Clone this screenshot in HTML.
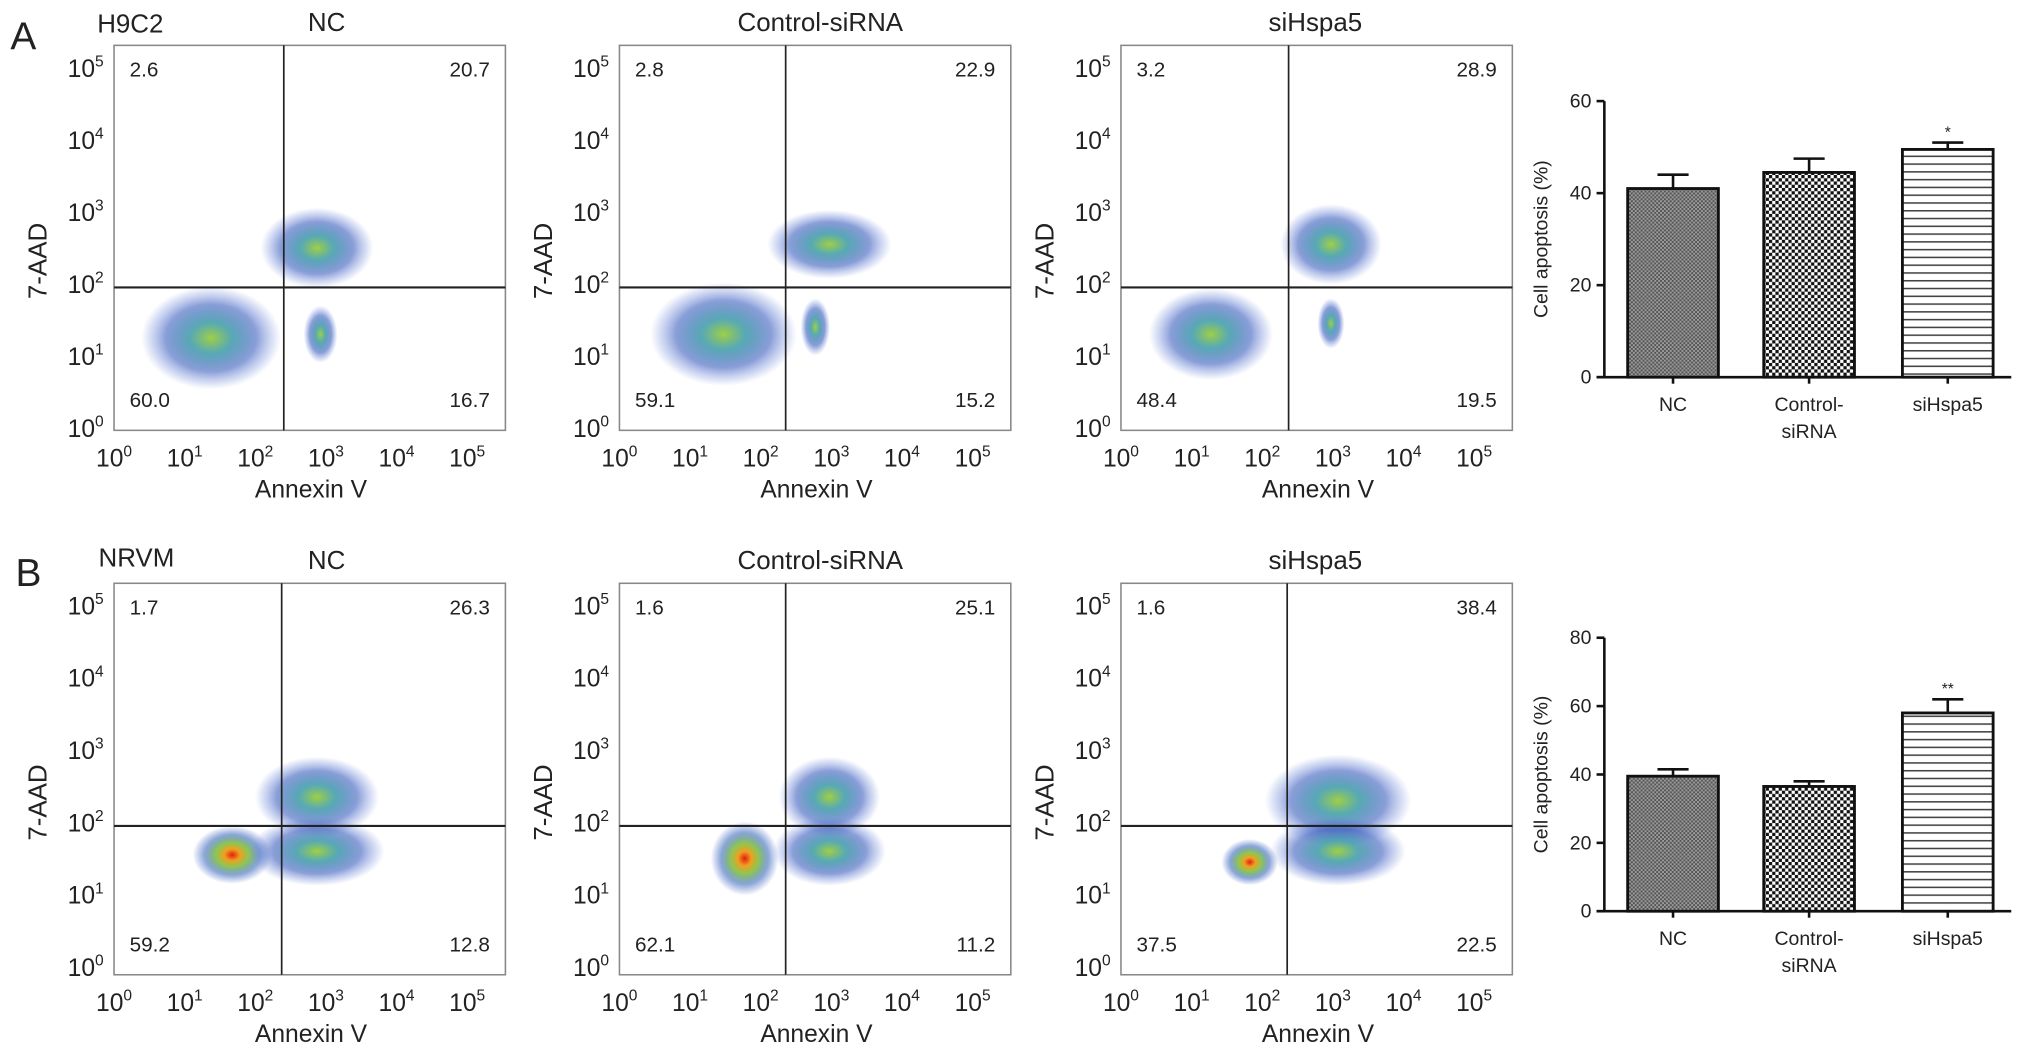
<!DOCTYPE html>
<html><head><meta charset="utf-8"><style>
html,body{margin:0;padding:0;background:#fff}
svg{display:block}
text{font-family:"Liberation Sans",Arial,sans-serif;fill:#222}
</style></head><body>
<svg id="fig" width="2032" height="1059" viewBox="0 0 1568 817" preserveAspectRatio="none" xmlns="http://www.w3.org/2000/svg">
<defs>
<radialGradient id="gBlue"><stop offset="0" stop-color="#9acd3a" stop-opacity="0.95"/><stop offset="0.3" stop-color="#3a9aa8" stop-opacity="0.85"/><stop offset="0.65" stop-color="#2a4fb8" stop-opacity="0.55"/><stop offset="0.88" stop-color="#4a6ad0" stop-opacity="0.2"/><stop offset="1" stop-color="#6080d0" stop-opacity="0"/></radialGradient>
<radialGradient id="gRed"><stop offset="0" stop-color="#e02010"/><stop offset="0.2" stop-color="#f0a020"/><stop offset="0.42" stop-color="#80c040" stop-opacity="0.9"/><stop offset="0.7" stop-color="#2a5fb8" stop-opacity="0.55"/><stop offset="1" stop-color="#3050c0" stop-opacity="0"/></radialGradient>
<pattern id="pNC" width="3" height="3" patternUnits="userSpaceOnUse"><rect width="3" height="3" fill="#9a9a9a"/><rect width="1.5" height="1.5" fill="#555"/><rect x="1.5" y="1.5" width="1.5" height="1.5" fill="#555"/></pattern>
<pattern id="pCtrl" width="5" height="5" patternUnits="userSpaceOnUse"><rect width="5" height="5" fill="#fff"/><rect width="2.5" height="2.5" fill="#111"/><rect x="2.5" y="2.5" width="2.5" height="2.5" fill="#111"/></pattern>
<pattern id="pSi" width="6" height="6" patternUnits="userSpaceOnUse"><rect width="6" height="6" fill="#fff"/><rect y="0" width="6" height="1.2" fill="#444"/></pattern>
</defs>
<text x="8" y="38" font-size="30">A</text>
<text x="12" y="452" font-size="30">B</text>
<text x="75" y="25" font-size="20">H9C2</text>
<text x="76" y="437" font-size="20">NRVM</text>
<g id="plots"></g>
<g id="bars"></g>
</svg>
<script>
// ---- flow cytometry data ----
const panelTitles = ["NC","Control-siRNA","siHspa5","NC","Control-siRNA","siHspa5"];
const quadUL = ["2.6","2.8","3.2","1.7","1.6","1.6"];
const quadUR = ["20.7","22.9","28.9","26.3","25.1","38.4"];
const quadLL = ["60.0","59.1","48.4","59.2","62.1","37.5"];
const quadLR = ["16.7","15.2","19.5","12.8","11.2","22.5"];
// clusters: [logX, logY, rxDecades, ryDecades, type]
const clusters = [
 [[1.3,1.25,0.62,0.45,0],[2.8,2.5,0.5,0.35,0],[2.85,1.3,0.15,0.25,0]],
 [[1.4,1.3,0.65,0.45,0],[2.9,2.55,0.55,0.3,0],[2.7,1.4,0.13,0.25,0]],
 [[1.2,1.3,0.55,0.4,0],[2.9,2.55,0.45,0.35,0],[2.9,1.45,0.12,0.22,0]],
 [[1.6,1.55,0.35,0.25,1],[2.8,2.35,0.55,0.35,0],[2.8,1.6,0.6,0.3,0]],
 [[1.7,1.5,0.3,0.32,1],[2.9,2.35,0.45,0.35,0],[2.9,1.6,0.5,0.3,0]],
 [[1.75,1.45,0.25,0.2,1],[3.0,2.3,0.65,0.4,0],[3.0,1.6,0.6,0.3,0]]
];
const gateX = [2.33,2.28,2.3,2.3,2.28,2.28];
const gateY = [1.95,1.95,1.95,1.95,1.95,1.95];
const tickExp = ["0","1","2","3","4","5"];
// ---- bar chart data ----
const barCats = ["NC","Control-","siHspa5"];
const barCats2 = ["","siRNA",""];
const barA = [41,44.5,49.5];
const errA = [44,47.5,51];
const sigA = ["","","*"];
const barB = [39.5,36.5,58];
const errB = [41.5,38,62];
const sigB = ["","","**"];
const ticksA = [0,20,40,60];
const ticksB = [0,20,40,60,80];

const NS="http://www.w3.org/2000/svg";
function mk(tag,attrs,parent,txt){const e=document.createElementNS(NS,tag);for(const k in attrs)e.setAttribute(k,attrs[k]);if(txt!==undefined)e.textContent=txt;parent.appendChild(e);return e;}
const plots=document.getElementById('plots');
const frameX=[88,478,865];
for(let p=0;p<6;p++){
  const row=Math.floor(p/3), col=p%3;
  const fx=frameX[col], fw=302;
  const fy=row?450:35, fh=row?302:297;
  const y0=row?746:330, dy=row?55.8:55.5;
  const x0=fx+4, dx=54.5;
  const X=l=>x0+l*dx, Y=l=>y0-l*dy;
  const g=mk('g',{},plots);
  
  
  mk('rect',{x:fx,y:fy,width:fw,height:fh,fill:'#fff',stroke:'#888','stroke-width':1.2},g);
  clusters[p].forEach(c=>{
    const e=mk('ellipse',{cx:X(c[0]),cy:Y(c[1]),rx:c[2]*dx*1.6,ry:c[3]*dy*1.6,fill:c[4]?'url(#gRed)':'url(#gBlue)'},g);
    
    
  });
  const vl=mk('line',{x1:X(gateX[p]),x2:X(gateX[p]),y1:fy,y2:fy+fh,stroke:'#222','stroke-width':1.3},g);
  
  const hl=mk('line',{x1:fx,x2:fx+fw,y1:Y(gateY[p]),y2:Y(gateY[p]),stroke:'#222','stroke-width':1.6},g);
  
  tickExp.forEach((t,i)=>{
    const ty=mk('text',{x:fx-8,y:Y(i)+7,'font-size':19,'text-anchor':'end'},g);
    
    mk('tspan',{},ty,'10');mk('tspan',{dy:-8,'font-size':12},ty,t);
    const tx=mk('text',{x:X(i)-4,y:fy+fh+28,'font-size':19,'text-anchor':'middle'},g);
    
    mk('tspan',{},tx,'10');mk('tspan',{dy:-8,'font-size':12},tx,t);
  });
  const tt=mk('text',{x:[252,633,1015][col],y:fy-11,'font-size':20,'text-anchor':'middle'},g,panelTitles[p]);
  
  [[quadUL[p],fx+12,fy+24,'start'],[quadUR[p],fx+fw-12,fy+24,'end'],[quadLL[p],fx+12,fy+fh-18,'start'],[quadLR[p],fx+fw-12,fy+fh-18,'end']].forEach(q=>{
    const e=mk('text',{x:q[1],y:q[2],'font-size':16,'text-anchor':q[3]},g,q[0]);
    
  });
  const xl=mk('text',{x:fx+152,y:fy+fh+52,'font-size':19,'text-anchor':'middle'},g,'Annexin V');
  
  const yl=mk('text',{x:0,y:0,'font-size':20,'text-anchor':'middle',transform:`translate(${fx-52},${fy+fh*0.56}) rotate(-90)`},g,'7-AAD');
  
}
// bar charts
const bars=document.getElementById('bars');
const pats=['url(#pNC)','url(#pCtrl)','url(#pSi)'];
function barChart(vals,errs,sigs,ticks,yBase,yTop,maxV,name){
  const g=mk('g',{},bars);
  
  
  const Y=v=>yBase-(v/maxV)*(yBase-yTop);
  const ax=1238;
  mk('line',{x1:ax,x2:ax,y1:Y(maxV),y2:yBase,stroke:'#111','stroke-width':2},g);
  mk('line',{x1:ax-6,x2:1552,y1:yBase,y2:yBase,stroke:'#111','stroke-width':2},g);
  ticks.forEach(t=>{
    mk('line',{x1:ax-6,x2:ax,y1:Y(t),y2:Y(t),stroke:'#111','stroke-width':2},g);
    const e=mk('text',{x:ax-10,y:Y(t)+5,'font-size':15,'text-anchor':'end'},g,String(t));
    
  });
  const cx=[1291,1396,1503];
  vals.forEach((v,i)=>{
    const r=mk('rect',{x:cx[i]-35,y:Y(v),width:70,height:yBase-Y(v),fill:pats[i],stroke:'#111','stroke-width':2.2},g);
    
    
    mk('line',{x1:cx[i],x2:cx[i],y1:Y(errs[i]),y2:Y(v),stroke:'#111','stroke-width':2},g);
    const eb=mk('line',{x1:cx[i]-12,x2:cx[i]+12,y1:Y(errs[i]),y2:Y(errs[i]),stroke:'#111','stroke-width':2},g);
    
    mk('line',{x1:cx[i],x2:cx[i],y1:yBase,y2:yBase+5,stroke:'#111','stroke-width':2},g);
    if(sigs[i]){const s=mk('text',{x:cx[i],y:Y(errs[i])-4,'font-size':12,'text-anchor':'middle'},g,sigs[i]);}
    const l=mk('text',{x:cx[i],y:yBase+26,'font-size':15,'text-anchor':'middle'},g,barCats[i]);
    
    if(barCats2[i]){const l2=mk('text',{x:cx[i],y:yBase+47,'font-size':15,'text-anchor':'middle'},g,barCats2[i]);}
  });
  const yl=mk('text',{x:0,y:0,'font-size':15,'text-anchor':'middle',transform:`translate(1194,${(yBase+yTop)/2}) rotate(-90)`},g,'Cell apoptosis (%)');
  
}
barChart(barA,errA,sigA,ticksA,291,78,60,'bar-chart-a');
barChart(barB,errB,sigB,ticksB,703,492,80,'bar-chart-b');
</script>
</body></html>
